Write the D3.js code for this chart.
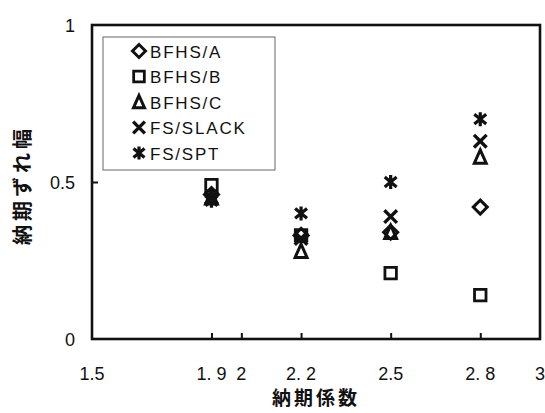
<!DOCTYPE html>
<html><head><meta charset="utf-8">
<script src="https://cdn.jsdelivr.net/npm/d3@7"></script>
<style>body{margin:0;background:#fff}svg{display:block}</style>
</head><body>
<script>
const xValues = [1.9, 2.2, 2.5, 2.8];
const seriesNames = ["BFHS/A", "BFHS/B", "BFHS/C", "FS/SLACK", "FS/SPT"];
const bfhsA   = [0.46, 0.33, 0.34, 0.42];
const bfhsB   = [0.49, 0.33, 0.21, 0.14];
const bfhsC   = [0.45, 0.28, 0.34, 0.58];
const fsSlack = [0.45, 0.32, 0.39, 0.63];
const fsSpt   = [0.44, 0.40, 0.50, 0.70];
const xTickValues = [1.9, 2, 2.2, 2.5, 2.8];
const xLabelValues = [1.5, 1.9, 2, 2.2, 2.5, 2.8, 3];
const xLabelTexts = ["1.5", "1. 9", "2", "2. 2", "2.5", "2. 8", "3"];
const yLabelValues = [0, 0.5, 1];
const yLabelTexts = ["0", "0.5", "1"];
const yTickValues = [0.5];
const xTitle = "納期係数";
const yTitle = "納期ずれ幅";

const W = 545, H = 413;
const L = 92, R = 540, T = 25, B = 339;
const svg = d3.select("body").append("svg").attr("width", W).attr("height", H);
const x = d3.scaleLinear().domain([1.5, 3]).range([L, R]);
const y = d3.scaleLinear().domain([0, 1]).range([B, T]);

// custom symbols
const diamond = {draw(c, s){const r=s; c.moveTo(0,-r); c.lineTo(r,0); c.lineTo(0,r); c.lineTo(-r,0); c.closePath();}};
const square = {draw(c, s){const r=s*0.82; c.rect(-r,-r,2*r,2*r);}};
const triangle = {draw(c, s){const r=s; c.moveTo(0,-r*1.0); c.lineTo(r*0.85,r*0.9); c.lineTo(-r*0.85,r*0.9); c.closePath();}};
const times = {draw(c, s){const r=s*0.9; c.moveTo(-r,-r); c.lineTo(r,r); c.moveTo(-r,r); c.lineTo(r,-r);}};
const aster = {draw(c, s){const r=s; c.moveTo(0,-r); c.lineTo(0,r); const a=r*0.85, b=r*0.7; c.moveTo(-a,-b); c.lineTo(a,b); c.moveTo(-a,b); c.lineTo(a,-b);}};
const symTypes = [diamond, square, triangle, times, aster];
const strokeW = [3, 2.8, 3, 3.4, 3.2];
const seriesData = [bfhsA, bfhsB, bfhsC, fsSlack, fsSpt];

// frame
svg.append("rect").attr("x", L).attr("y", T).attr("width", R - L).attr("height", B - T)
  .attr("fill", "none").attr("stroke", "#111").attr("stroke-width", 2.6);

// inward ticks
const xAxis = d3.axisTop(x).tickValues(xTickValues).tickSize(6).tickFormat("");
const gx = svg.append("g").attr("transform", `translate(0,${B})`).call(xAxis);
gx.select(".domain").remove();
gx.selectAll("line").attr("stroke", "#111").attr("stroke-width", 2);
const yAxis = d3.axisRight(y).tickValues(yTickValues).tickSize(6).tickFormat("");
const gy = svg.append("g").attr("transform", `translate(${L},0)`).call(yAxis);
gy.select(".domain").remove();
gy.selectAll("line").attr("stroke", "#111").attr("stroke-width", 2);

// tick labels
const font = "'Liberation Sans', Arial, sans-serif";
svg.append("g").selectAll("text").data(xLabelValues).join("text")
  .attr("x", d => x(d)).attr("y", 380).attr("text-anchor", "middle")
  .attr("font-family", font).attr("font-size", 18).attr("fill", "#111")
  .text((d, i) => xLabelTexts[i]);
svg.append("g").selectAll("text").data(yLabelValues).join("text")
  .attr("x", 75).attr("y", d => y(d) + 7).attr("text-anchor", "end")
  .attr("font-family", font).attr("font-size", 18).attr("fill", "#111")
  .text((d, i) => yLabelTexts[i]);

// titles
const cjk = "'Noto Sans CJK JP', sans-serif";
svg.append("text").attr("x", 316).attr("y", 405).attr("text-anchor", "middle")
  .attr("font-family", cjk).attr("font-weight", "bold").attr("font-size", 19)
  .attr("letter-spacing", 3).attr("fill", "#111").text(xTitle);
svg.append("text").attr("transform", "translate(30,185) rotate(-90)").attr("text-anchor", "middle")
  .attr("font-family", cjk).attr("font-weight", "bold").attr("font-size", 20)
  .attr("letter-spacing", 4).attr("fill", "#111").text(yTitle);

// points
seriesData.forEach((vals, si) => {
  svg.append("g").selectAll("path").data(vals).join("path")
    .attr("transform", (d, i) => `translate(${x(xValues[i])},${y(d)})`)
    .attr("d", d3.symbol().type(symTypes[si]).size(7))
    .attr("fill", "none").attr("stroke", "#111").attr("stroke-width", strokeW[si]);
});

// legend
const lg = svg.append("g");
lg.append("rect").attr("x", 103).attr("y", 37).attr("width", 172).attr("height", 133)
  .attr("fill", "#fff").attr("stroke", "#666").attr("stroke-width", 1);
seriesNames.forEach((name, i) => {
  const cy = 51 + i * 25.5;
  lg.append("path").attr("transform", `translate(139,${cy})`)
    .attr("d", d3.symbol().type(symTypes[i]).size(6.5))
    .attr("fill", "none").attr("stroke", "#111").attr("stroke-width", strokeW[i]);
  lg.append("text").attr("x", 150).attr("y", cy + 6.5)
    .attr("font-family", font).attr("font-size", 17).attr("letter-spacing", 1.8)
    .attr("fill", "#111").text(name);
});
</script>
</body></html>
